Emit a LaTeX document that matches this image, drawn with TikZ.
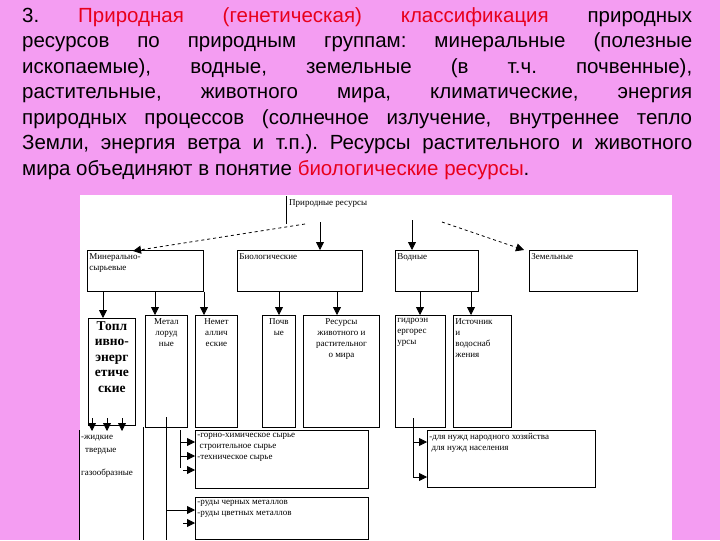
\documentclass[tikz,border=0pt]{standalone}
\usepackage{fontspec}
\setmainfont{Liberation Serif}
\newfontfamily\ar{Liberation Sans}
\usetikzlibrary{arrows.meta}
\definecolor{bg}{HTML}{F49DF2}
\definecolor{rd}{HTML}{E8001C}
\newcommand{\bt}[3]{\parbox[t][#2][t]{#1}{\raggedright #3}}
\newcommand{\btc}[3]{\parbox[t][#2][t]{#1}{\centering #3}}
\frenchspacing
\begin{document}
\begin{tikzpicture}[x=1pt,y=-1pt,
 bx/.style={draw,line width=0.8pt,anchor=north west,inner xsep=2pt,inner ysep=3pt,font=\fontsize{9}{11}\selectfont},
 ar/.style={-{Triangle[length=8pt,width=8pt]},line width=0.8pt},
 ln/.style={line width=0.8pt},
 lb/.style={anchor=west,inner sep=0pt,font=\fontsize{9}{11}\selectfont}]
\fill[bg] (0,0) rectangle (720,540);
\fill[white] (80,195) rectangle (672,540);
\node[anchor=north west,inner sep=0pt,text width=670pt,align=justify,font=\ar\fontsize{20.5}{25.5}\selectfont] (t) at (22,7)
{\frenchspacing 3. \textcolor{rd}{Природная (генетическая) классификация} природных\linebreak ресурсов по природным группам: минеральные (полезные\linebreak ископаемые), водные, земельные (в т.ч. почвенные),\linebreak растительные, животного мира, климатические, энергия\linebreak природных процессов (солнечное излучение, внутреннее тепло\linebreak Земли, энергия ветра и т.п.). Ресурсы растительного и животного\linebreak мира объединяют в понятие \textcolor{rd}{биологические ресурсы}.};
% top
\node[lb] (pr) at (289,204) {Природные ресурсы};
\coordinate (a1) at (286,196); \coordinate (a2) at (286,224);
\draw[ln] (a1)--(a2);
% level 1
\node[bx] (m) at (87,250) {\bt{112pt}{35pt}{Минерально-\\сырьевые}};
\node[bx] (b) at (237,250) {\bt{121pt}{35pt}{Биологические}};
\node[bx] (w) at (395,250) {\bt{79pt}{35pt}{Водные}};
\node[bx] (z) at (529,250) {\bt{104pt}{35pt}{Земельные}};
\coordinate (d1) at (305,224); \coordinate (d2) at (442,222);
\coordinate (mt) at (133,251); \coordinate (zt) at (524,250);
\draw[ar,dashed] (d1)--(mt);
\draw[ar] (320,222) -- (b.north -| 320,0);
\draw[ar] (412,220) -- (w.north -| 412,0);
\draw[ar,dashed] (d2) -- (zt);
% level 2
\node[bx,font=\fontsize{13.5}{15.5}\selectfont\bfseries] (te) at (88,318) {\btc{43pt}{101pt}{Топл\\ивно-\\энерг\\етиче\\ские}};
\node[bx] (mr) at (145,315) {\btc{38pt}{106pt}{Метал\\лоруд\\ные}};
\node[bx] (nr) at (195,315) {\btc{38pt}{106pt}{Немет\\аллич\\еские}};
\node[bx] (pc) at (262,315) {\btc{29pt}{106pt}{Почв\\ые}};
\node[bx] (rz) at (303,315) {\btc{72pt}{106pt}{Ресурсы\\животного и\\растительног\\о мира}};
\node[bx] (gr) at (395,315) {\bt{46pt}{106pt}{гидроэн\\ергорес\\урсы}};
\node[bx] (iv) at (453,315) {\bt{54pt}{106pt}{Источник\\и\\водоснаб\\жения}};
\foreach \n/\x/\p in {te/103/m, mr/155/m, nr/204/m, pc/279/b, rz/337/b, gr/420/w, iv/471/w}
  \draw[ar] (\p.south -| \x,0) -- (\n.north -| \x,0);
% level 3
\foreach \x in {92,107,122} \draw[ar] (\x,418) -- (\x,431);
\node[lb] (l1) at (81,438) {-жидкие};
\node[lb] (l2) at (85,451) {твердые};
\node[lb] (l3) at (81,473) {газообразные};
\draw[ln] (79,430) -- (79,540);
\draw[ln] (143,427) -- (143,540);
\node[bx] (nb) at (195,430) {\bt{169pt}{52pt}{-горно-химическое сырье\\\ строительное сырье\\-техническое сырье}};
\node[bx] (mb) at (195,497) {\bt{169pt}{36pt}{-руды черных металлов\\-руды цветных металлов}};
\coordinate (v1) at (180,430); \coordinate (v2) at (180,468);
\draw[ln] (v1) -- (v2);
\foreach \y in {442,456} \draw[ar] (180,\y) -- (nb.west |- 0,\y);
\draw[ar] (183,470) -- (nb.west |- 0,470);
\draw[ln] (166,417) -- (166,540);
\draw[ar] (166,510) -- (mb.west |- 0,510);
\draw[ar] (183,523) -- (mb.west |- 0,523);
\node[bx] (vb) at (427,430) {\bt{164pt}{51pt}{-для нужд народного хозяйства\\\ для нужд населения}};
\draw[ln] (413,418) -- (413,478);
\foreach \y in {442,477} \draw[ar] (413,\y) -- (vb.west |- 0,\y);
\end{tikzpicture}
\end{document}
